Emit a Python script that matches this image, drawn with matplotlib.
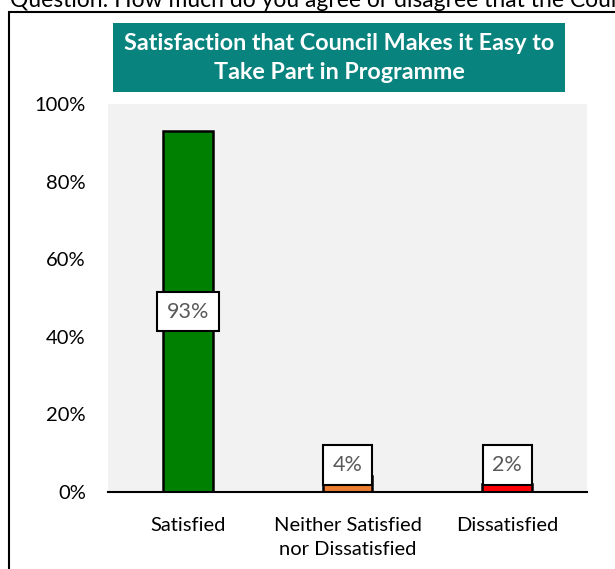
import matplotlib
matplotlib.use("Agg")
import matplotlib.pyplot as plt
from matplotlib.patches import Rectangle

categories = ["Satisfied", "Neither Satisfied\nnor Dissatisfied", "Dissatisfied"]
values = [93, 4, 2]
bar_colors = ["#008000", "#ED7D31", "#FF0000"]
y_ticks = [0, 20, 40, 60, 80, 100]
y_tick_labels = ["0%", "20%", "40%", "60%", "80%", "100%"]
title = "Satisfaction that Council Makes it Easy to\nTake Part in Programme"
question = "Question: How much do you agree or disagree that the Council makes it easy to take part"

plt.rcParams["font.family"] = ["Lato", "DejaVu Sans"]

W, H = 615, 569
fig = plt.figure(figsize=(W / 100, H / 100), dpi=100)
fig.patch.set_facecolor("white")

def fx(px):
    return px / W

def fy(py):
    return 1 - py / H

# outer frame
fig.patches.append(Rectangle((fx(8.5), fy(700)), fx(700), fy(12.5) - fy(700),
                             transform=fig.transFigure, fill=False,
                             edgecolor="black", linewidth=1.5, clip_on=False))

# question line (runs off the top/right edge)
fig.text(fx(10), fy(7), question, fontsize=16.5, color="black",
         ha="left", va="baseline")

# title banner
fig.patches.append(Rectangle((fx(113), fy(92)), fx(565 - 113), fy(23) - fy(92),
                             transform=fig.transFigure, facecolor="#08837E",
                             edgecolor="none"))
fig.text(fx(339), fy(58), title, fontsize=16.8, fontweight="bold",
         color="white", ha="center", va="center", linespacing=1.45)

ax = fig.add_axes([fx(108), fy(492), fx(587 - 108), fy(104) - fy(492)])
ax.set_facecolor("#F2F2F2")

x = list(range(len(categories)))
ax.bar(x, values, width=0.31, color=bar_colors, edgecolor="black",
       linewidth=1.8, zorder=2)

for xi, v in zip(x, values):
    ypos = max(v / 2, 7)
    ax.text(xi, ypos, f"{v}%", ha="center", va="center", fontsize=15.5,
            color="#595959", zorder=4,
            bbox=dict(boxstyle="square,pad=0.45", facecolor="white",
                      edgecolor="black", linewidth=1.5))

ax.set_xlim(-0.5, 2.5)
ax.set_ylim(0, 100)
ax.set_yticks(y_ticks)
ax.set_yticklabels(y_tick_labels)
ax.set_xticks(x)
ax.set_xticklabels(categories, linespacing=1.5)
ax.tick_params(axis="y", length=0, pad=16, labelsize=14.5)
ax.tick_params(axis="x", length=0, pad=18, labelsize=14.5)
for s in ["top", "right", "left"]:
    ax.spines[s].set_visible(False)
ax.spines["bottom"].set_linewidth(1.5)
ax.spines["bottom"].set_zorder(3)

fig.savefig("out.png", dpi=100)
